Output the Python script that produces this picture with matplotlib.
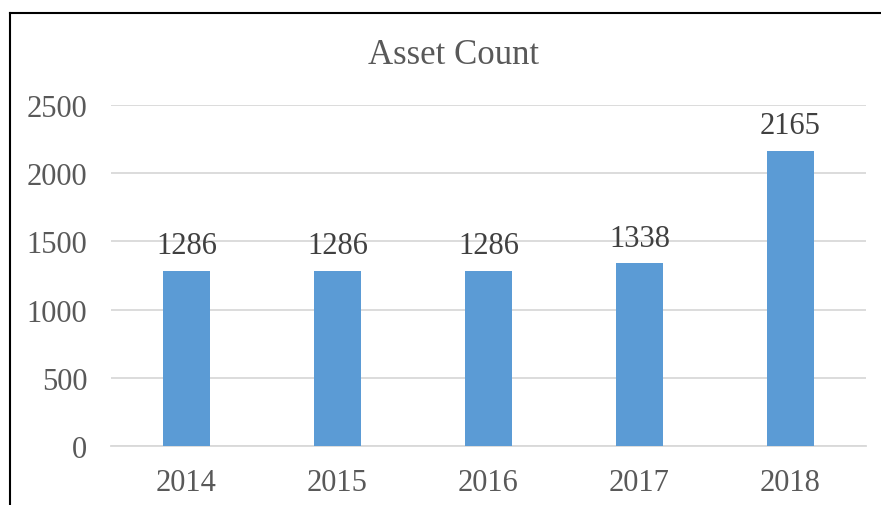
import matplotlib.pyplot as plt
from matplotlib.lines import Line2D

years = ['2014', '2015', '2016', '2017', '2018']
counts = [1286, 1286, 1286, 1338, 2165]
yticks = [0, 500, 1000, 1500, 2000, 2500]

W, H = 881, 506
fig = plt.figure(figsize=(W / 100, H / 100), dpi=100)
plt.rcParams['font.family'] = ['Liberation Serif', 'DejaVu Serif']

# plot area in pixels
x0, x1 = 111, 866
y0, y1 = 447, 106
ax = fig.add_axes([x0 / W, 1 - y0 / H, (x1 - x0) / W, (y0 - y1) / H])

txt = '#595959'
xs = range(len(years))
bars = ax.bar(xs, counts, width=0.31, color='#5B9BD5', zorder=3)
for x, v in zip(xs, counts):
    ax.text(x, v + 75, str(v), ha='center', va='bottom', fontsize=22, color='#404040')

ax.set_xlim(-0.5, len(years) - 0.5)
ax.set_ylim(0, 2500)
ax.set_yticks(yticks)
ax.set_xticks(list(xs))
ax.set_xticklabels(years)
ax.yaxis.grid(True, color='#D9D9D9', linewidth=1.3, zorder=0)
for s in ['top', 'right', 'left']:
    ax.spines[s].set_visible(False)
ax.spines['bottom'].set_color('#D9D9D9')
ax.spines['bottom'].set_linewidth(1.3)
ax.tick_params(axis='both', length=0, labelsize=22, colors=txt)
ax.tick_params(axis='y', pad=17)
ax.tick_params(axis='x', pad=16)

fig.text(454 / W, 1 - 55 / H, 'Asset Count', ha='center', va='center',
         fontsize=25, color=txt)

# outer frame (top and left edges visible)
fig.add_artist(Line2D([9.5 / W, 1], [1 - 14 / H, 1 - 14 / H], color='black', linewidth=1.5,
                      transform=fig.transFigure))
fig.add_artist(Line2D([9.5 / W, 9.5 / W], [0, 1 - 14 / H], color='black', linewidth=1.5,
                      transform=fig.transFigure))

fig.savefig('out.png', dpi=100)
